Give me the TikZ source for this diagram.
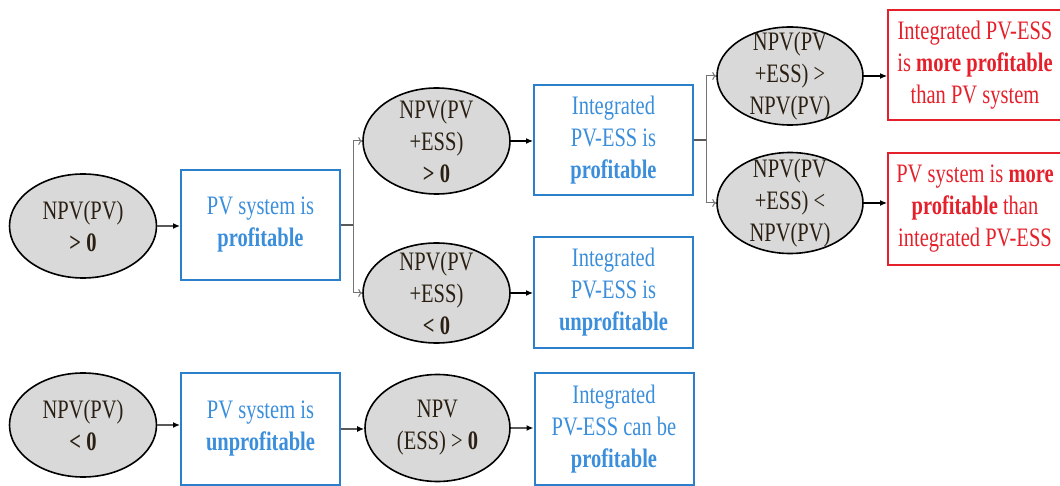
\documentclass[tikz,border=0pt]{standalone}
\usepackage{fontspec}
\setmainfont{Liberation Serif}
\usetikzlibrary{shapes.geometric,arrows.meta}
\definecolor{bluebd}{HTML}{2B7FCB}
\definecolor{bluetx}{HTML}{3A8EDB}
\definecolor{redc}{HTML}{E5202B}
\definecolor{elltx}{HTML}{2A1F12}
\definecolor{ellfill}{HTML}{D9D9D9}
\begin{document}
\begin{tikzpicture}[x=1pt,y=-1pt,
  txt/.style={font=\fontsize{20.5}{24.6}\selectfont, align=center, inner sep=0pt,
    yscale=1.3, transform shape},
  ell/.style={ellipse, draw=black, line width=1.6pt, fill=ellfill,
    minimum width=147pt, minimum height=104pt, inner sep=0pt},
  etxt/.style={txt, text=elltx},
  btxt/.style={txt, text=bluetx},
  rtxt/.style={txt, text=redc},
  bbox/.style={draw=bluebd, line width=2pt, minimum width=159pt,
    minimum height=110pt, inner sep=0pt},
  rbox/.style={draw=redc, line width=2pt, minimum width=174pt,
    minimum height=112pt, inner sep=0pt},
  arr/.style={draw=black!65, line width=1.4pt, -{Latex[length=7pt,width=6pt,color=black]}},
  plain/.style={draw=black!65, line width=1.2pt},
  brr/.style={draw=black!55, line width=1pt, -{To[length=4pt,width=8pt]}}
]
\useasboundingbox (0,0) rectangle (1060,486);
\fill[white] (0,0) rectangle (1060,486);

% top-left chain
\node[ell, label={[etxt]center:{NPV(PV)\\\textbf{> 0}}}] (a) at (83,226) {};
\node[bbox, label={[btxt]center:{PV system is\\\textbf{profitable}}}] (b) at (260.5,225) {};

\node[ell, minimum height=106pt, label={[etxt]center:{NPV(PV\\+ESS)\\\textbf{> 0}}}] (c) at (436.5,141) {};
\node[bbox, label={[btxt]center:{Integrated\\PV-ESS is\\\textbf{profitable}}}] (d) at (613.5,140) {};

\node[ell, minimum height=100pt, label={[etxt]center:{NPV(PV\\+ESS)\\\textbf{< 0}}}] (e) at (436.5,293) {};
\node[bbox, label={[btxt]center:{Integrated\\PV-ESS is\\\textbf{unprofitable}}}] (f) at (613.5,292.5) {};

\node[ell, minimum width=146pt, minimum height=98pt, label={[etxt]center:{NPV(PV\\+ESS) >\\NPV(PV)}}] (g) at (790,76) {};
\node[ell, minimum width=146pt, minimum height=101pt, label={[etxt]center:{NPV(PV\\+ESS) <\\NPV(PV)}}] (h) at (790,203) {};

\node[rbox, minimum height=110pt, label={[rtxt]center:{Integrated PV-ESS\\is \textbf{more profitable}\\than PV system}}] (i) at (975,65) {};
\node[rbox, label={[rtxt]center:{PV system is \textbf{more}\\\textbf{profitable} than\\integrated PV-ESS}}] (j) at (975,209) {};

% bottom chain
\node[ell, label={[etxt]center:{NPV(PV)\\\textbf{< 0}}}] (k) at (83,425) {};
\node[bbox, minimum height=112pt, label={[btxt]center:{PV system is\\\textbf{unprofitable}}}] (l) at (260.5,429) {};
\node[ell, minimum width=145pt, minimum height=107pt, label={[etxt]center:{NPV\\(ESS) > \textbf{0}}}] (m) at (437.5,428) {};
\node[bbox, minimum height=112pt, label={[btxt]center:{Integrated\\PV-ESS can be\\\textbf{profitable}}}] (n) at (614,429) {};

% connectors
\draw[arr] (a.east) -- (a.east -| b.west);
\draw[plain] (b.east) -- ++(12,0) coordinate (b1);
\draw[brr] (b1) |- (c.west);
\draw[brr] (b1) |- (e.west);
\draw[arr, draw=black, line width=1.1pt] (c.east) -- (c.east -| d.west);
\draw[arr, draw=black, line width=1.1pt] (e.east) -- (e.east -| f.west);
\draw[plain] (d.east) -- ++(12,0) coordinate (d1);
\draw[brr] (d1) |- (g.west);
\draw[brr] (d1) |- (h.west);
\draw[arr, draw=black, line width=1.1pt] (g.east) -- (g.east -| i.west);
\draw[arr, draw=black, line width=1.1pt] (h.east) -- (h.east -| j.west);

\draw[arr] (k.east) -- (k.east -| l.west);
\draw[arr] (l.east) -- (l.east -| m.west);
\draw[arr] (m.east) -- (m.east -| n.west);
\end{tikzpicture}
\end{document}
